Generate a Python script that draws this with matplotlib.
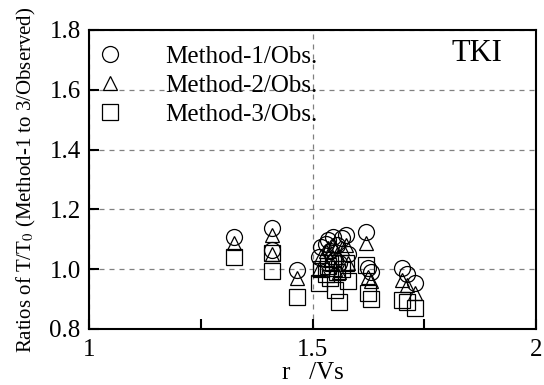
import matplotlib
matplotlib.use("Agg")
import matplotlib.pyplot as plt
from matplotlib.ticker import FixedLocator

# Velocity ratio r/Vs for each case
ratio_r_vs = [1.325, 1.41, 1.41, 1.465, 1.515, 1.52, 1.53, 1.535, 1.54, 1.545,
              1.55, 1.555, 1.56, 1.565, 1.575, 1.58, 1.62, 1.625, 1.63,
              1.70, 1.712, 1.73]

# Period ratios T/T0 for the three methods
method1_obs = [1.107, 1.137, 1.064, 0.997, 1.040, 1.075, 1.085, 1.098, 1.060, 1.109,
               1.030, 1.080, 1.020, 1.103, 1.114, 1.050, 1.125, 1.003, 0.990,
               1.005, 0.985, 0.953]
method2_obs = [1.087, 1.114, 1.050, 0.970, 1.000, 1.045, 1.060, 1.070, 1.030, 1.080,
               1.000, 1.050, 0.990, 1.070, 1.080, 1.020, 1.087, 0.975, 0.960,
               0.965, 0.947, 0.919]
method3_obs = [1.040, 1.054, 0.995, 0.908, 0.953, 1.000, 0.985, 1.010, 0.970, 1.020,
               0.930, 0.990, 0.889, 1.000, 1.020, 0.960, 1.014, 0.919, 0.900,
               0.897, 0.891, 0.869]

series_labels = ["Method-1/Obs.", "Method-2/Obs.", "Method-3/Obs."]
x_tick_labels = ["1", "1.5", "2"]
y_tick_labels = ["0.8", "1.0", "1.2", "1.4", "1.6", "1.8"]
site_name = "TKI"

plt.rcParams["font.family"] = ["Liberation Serif", "DejaVu Serif"]
plt.rcParams["mathtext.fontset"] = "stix"

fig = plt.figure(figsize=(5.44, 3.85), dpi=100)
ax = fig.add_axes([0.1636, 0.1455, 0.8217, 0.7766])

common = dict(linestyle="none", markerfacecolor="none", markeredgecolor="black",
              markeredgewidth=0.9)
ax.plot(ratio_r_vs, method1_obs, marker="o", markersize=11.5, label=series_labels[0], **common)
ax.plot(ratio_r_vs, method2_obs, marker="^", markersize=10.5, label=series_labels[1], **common)
ax.plot(ratio_r_vs, method3_obs, marker="s", markersize=11.5, label=series_labels[2], **common)

ax.set_xlim(1, 2)
ax.set_ylim(0.8, 1.8)

ax.xaxis.set_major_locator(FixedLocator([1.0, 1.5, 2.0]))
ax.set_xticklabels(x_tick_labels)
ax.xaxis.set_minor_locator(FixedLocator([1.25, 1.75]))
ax.yaxis.set_major_locator(FixedLocator([0.8, 1.0, 1.2, 1.4, 1.6, 1.8]))
ax.set_yticklabels(y_tick_labels)

ax.tick_params(axis="both", which="both", direction="in", length=7, width=1.5,
               labelsize=18, top=False, right=False)
ax.tick_params(axis="x", which="major", pad=7)
ax.tick_params(axis="y", which="major", pad=6)

for side in ax.spines.values():
    side.set_linewidth(1.5)

ax.grid(True, which="major", linestyle=(0, (4, 4)), color="#808080", linewidth=0.9)
ax.set_axisbelow(True)

ax.set_xlabel("r   /Vs", fontsize=18, labelpad=1)
ax.set_ylabel(r"Ratios of T/T$_0$ (Method-1 to 3/Observed)", fontsize=15, labelpad=8)

ax.text(0.868, 0.92, site_name, transform=ax.transAxes, fontsize=22,
        ha="center", va="center")

leg = ax.legend(loc="upper left", bbox_to_anchor=(-0.025, 1.008), frameon=False,
                fontsize=18, handlelength=1.2, handletextpad=1.6,
                labelspacing=0.27, borderaxespad=0.3, numpoints=1)

fig.savefig("out.png", dpi=100)
